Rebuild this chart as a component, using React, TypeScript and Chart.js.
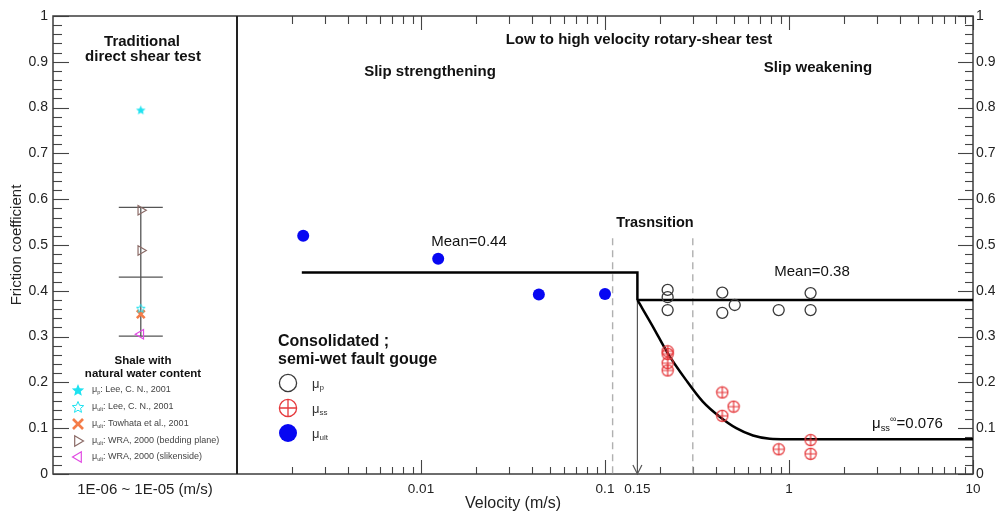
import React, { useEffect, useRef } from "react";
import { Chart, registerables } from "chart.js";

Chart.register(...registerables);

const FONT = '"Liberation Sans", Arial, Helvetica, sans-serif';

// ---- Low to high velocity rotary-shear test (velocity m/s, friction coefficient) ----
const ultVelocity = [0.00229, 0.0124, 0.0437, 0.1];
const ultFriction = [0.52, 0.47, 0.392, 0.393];

const peakVelocity = [0.219, 0.219, 0.219, 0.434, 0.434, 0.507, 0.879, 1.31, 1.31];
const peakFriction = [0.402, 0.386, 0.358, 0.396, 0.352, 0.369, 0.358, 0.395, 0.358];

const ssVelocity = [0.219, 0.219, 0.219, 0.219, 0.434, 0.434, 0.5, 0.879, 1.31, 1.31];
const ssFriction = [0.268, 0.262, 0.242, 0.226, 0.178, 0.127, 0.147, 0.054, 0.074, 0.044];

// Mean friction below / above the critical velocity
const slowMeanVelocity = [0.00225, 0.15, 0.15];
const slowMeanFriction = [0.44, 0.44, 0.38];
const fastMeanVelocity = [0.15, 10];
const fastMeanFriction = [0.38, 0.38];

// Steady-state friction decay towards mu_ss(inf) = 0.076
const decayVelocity = [0.15, 0.182, 0.219, 0.276, 0.34, 0.42, 0.517, 0.637, 0.786, 0.969, 10];
const decayFriction = [0.38, 0.322, 0.264, 0.205, 0.158, 0.125, 0.1, 0.084, 0.077, 0.076, 0.076];

const criticalVelocity = 0.15;
const criticalFriction = [0.38, 0];
const transitionVelocity = [0.11, 0.3];
const transitionFriction = [0.515, 0];

// ---- Traditional direct shear test (shale, natural water content) ----
const directVelocity = 0.0003;
const leePeak = [0.795];
const leeUlt = [0.362];
const towhataUlt = [0.349];
const wraBedding = [0.576, 0.488];
const wraSlickenside = [0.305];
const directLow = 0.301;
const directMean = 0.43;
const directHigh = 0.582;

// ---- Axes ----
const xMin = 1e-4;
const xMax = 10;
const panelDivider = 1e-3;
const xTickValues = [0.000316, 0.01, 0.1, 0.15, 1, 10];
const xTickLabels = ["1E-06 ~ 1E-05 (m/s)", "0.01", "0.1", "0.15", "1", "10"];

const CYAN = "#1ee2f0";
const ORANGE = "#f47c48";
const BROWN = "#8a6a66";
const MAGENTA = "#e14be3";
const BLUE = "#0707f2";
const RED = "#e5393c";
const DARK = "#3a3a3a";

const pts = (xs: number[], ys: number[]) => xs.map((v, i) => ({ x: v, y: ys[i] }));
const col = (v: number, ys: number[]) => ys.map((y) => ({ x: v, y }));
const yLabel = (v: any) => String(Number(Number(v).toFixed(1)));

function starImage(size: number, fill: string | null, stroke: string | null, lw: number) {
  const c = document.createElement("canvas");
  c.width = size;
  c.height = size;
  const g = c.getContext("2d")!;
  const cx = size / 2;
  const cy = size / 2 + 0.5;
  const R = size / 2 - lw;
  const r = R * 0.45;
  g.beginPath();
  for (let i = 0; i < 10; i++) {
    const a = -Math.PI / 2 + (i * Math.PI) / 5;
    const rr = i % 2 ? r : R;
    g.lineTo(cx + rr * Math.cos(a), cy + rr * Math.sin(a));
  }
  g.closePath();
  if (fill) {
    g.fillStyle = fill;
    g.fill();
  }
  if (stroke) {
    g.strokeStyle = stroke;
    g.lineWidth = lw;
    g.stroke();
  }
  return c;
}

function crossCircleImage(size: number, r: number, color: string, lw: number) {
  const c = document.createElement("canvas");
  c.width = size;
  c.height = size;
  const g = c.getContext("2d")!;
  const cx = size / 2;
  const cy = size / 2;
  g.strokeStyle = color;
  g.lineWidth = lw;
  g.beginPath();
  g.arc(cx, cy, r, 0, Math.PI * 2);
  g.moveTo(cx - r, cy);
  g.lineTo(cx + r, cy);
  g.moveTo(cx, cy - r);
  g.lineTo(cx, cy + r);
  g.stroke();
  return c;
}

function line(ctx: CanvasRenderingContext2D, x1: number, y1: number, x2: number, y2: number) {
  ctx.beginPath();
  ctx.moveTo(x1, y1);
  ctx.lineTo(x2, y2);
  ctx.stroke();
}

function text(
  ctx: CanvasRenderingContext2D,
  s: string,
  x: number,
  y: number,
  size: number,
  bold = false,
  align: CanvasTextAlign = "center",
  color = "#111"
) {
  ctx.font = `${bold ? "bold " : ""}${size}px ${FONT}`;
  ctx.fillStyle = color;
  ctx.textAlign = align;
  ctx.textBaseline = "middle";
  ctx.fillText(s, x, y);
}

function muLabel(
  ctx: CanvasRenderingContext2D,
  x: number,
  y: number,
  size: number,
  sub: string,
  rest: string,
  color: string,
  sup = ""
) {
  ctx.textAlign = "left";
  ctx.textBaseline = "middle";
  ctx.fillStyle = color;
  ctx.font = `${size}px ${FONT}`;
  ctx.fillText("μ", x, y);
  let cx = x + ctx.measureText("μ").width;
  const small = size * 0.62;
  ctx.font = `${small}px ${FONT}`;
  ctx.fillText(sub, cx, y + size * 0.32);
  cx += ctx.measureText(sub).width;
  if (sup) {
    ctx.fillText(sup, cx, y - size * 0.3);
    cx += ctx.measureText(sup).width;
  }
  if (rest) {
    ctx.font = `${size}px ${FONT}`;
    ctx.fillText(rest, cx, y);
  }
}

function triangle(ctx: CanvasRenderingContext2D, x: number, y: number, r: number, dir: number, color: string) {
  ctx.strokeStyle = color;
  ctx.lineWidth = 1.2;
  ctx.beginPath();
  ctx.moveTo(x + dir * r, y);
  ctx.lineTo(x - dir * r * 0.6, y - r * 0.95);
  ctx.lineTo(x - dir * r * 0.6, y + r * 0.95);
  ctx.closePath();
  ctx.stroke();
}

export default function App() {
  const ref = useRef<HTMLCanvasElement>(null);

  useEffect(() => {
    const canvas = ref.current;
    if (!canvas) return;

    const starFilled = starImage(11, CYAN, null, 0.5);
    const starOpen = starImage(11, null, CYAN, 1);
    const crossCircle = crossCircleImage(14, 5.6, RED, 1.2);
    const legendStarFilled = starImage(14, CYAN, null, 0.5);
    const legendStarOpen = starImage(14, null, CYAN, 1);
    const legendCrossCircle = crossCircleImage(22, 8.6, RED, 1.3);

    const decor = {
      id: "decor",
      beforeDatasetsDraw(chart: any) {
        const { ctx, chartArea: a, scales } = chart;
        const xs = scales.x;
        const ys = scales.y;
        ctx.save();
        // inward tick marks on all four sides
        ctx.strokeStyle = "#444";
        ctx.lineWidth = 1.1;
        for (let i = 0; i <= 50; i++) {
          const py = Math.round(ys.getPixelForValue(i / 50)) + 0.5;
          const major = i % 5 === 0;
          line(ctx, a.left, py, a.left + (major ? 16 : 9), py);
          line(ctx, a.right, py, a.right - (major ? 15 : 8), py);
        }
        for (let e = -3; e <= 1; e++) {
          for (let m = 1; m <= 9; m++) {
            const v = m * Math.pow(10, e);
            if (v <= panelDivider * 1.0001 || v > xMax * 1.0001) continue;
            const px = Math.round(xs.getPixelForValue(v)) + 0.5;
            const major = m === 1;
            line(ctx, px, a.bottom, px, a.bottom - (major ? 14 : 7));
            line(ctx, px, a.top, px, a.top + (major ? 14 : 8));
          }
        }
        // frame and panel divider
        ctx.strokeStyle = "#3c3c3c";
        ctx.lineWidth = 1.5;
        ctx.strokeRect(a.left, a.top, a.right - a.left, a.bottom - a.top);
        ctx.strokeStyle = "#222";
        ctx.lineWidth = 2;
        const dx = Math.round(xs.getPixelForValue(panelDivider));
        line(ctx, dx, a.top, dx, a.bottom);

        // direct shear range bar
        const cx = xs.getPixelForValue(directVelocity);
        const cap = 22;
        ctx.strokeStyle = "#555";
        ctx.lineWidth = 1.3;
        line(ctx, cx, ys.getPixelForValue(directLow), cx, ys.getPixelForValue(directHigh));
        [directLow, directMean, directHigh].forEach((v) => {
          const py = ys.getPixelForValue(v);
          line(ctx, cx - cap, py, cx + cap, py);
        });
        ctx.restore();
      },
      afterDatasetsDraw(chart: any) {
        const { ctx, scales } = chart;
        const xs = scales.x;
        const ys = scales.y;
        ctx.save();
        // arrow head at the critical velocity
        const ax = xs.getPixelForValue(criticalVelocity);
        const ay = ys.getPixelForValue(0);
        ctx.strokeStyle = "#555";
        ctx.lineWidth = 1.2;
        ctx.beginPath();
        ctx.moveTo(ax - 4.5, ay - 9);
        ctx.lineTo(ax, ay);
        ctx.lineTo(ax + 4.5, ay - 9);
        ctx.stroke();
        ctx.restore();
      },
      afterDraw(chart: any) {
        const { ctx } = chart;
        ctx.save();
        // panel titles
        text(ctx, "Traditional", 142, 42, 15, true);
        text(ctx, "direct shear test", 143, 57, 15, true);
        text(ctx, "Low to high velocity rotary-shear test", 639, 40, 15, true);
        text(ctx, "Slip strengthening", 430, 72, 15, true);
        text(ctx, "Slip weakening", 818, 68, 15, true);
        text(ctx, "Trasnsition", 655, 223, 14.5, true);
        text(ctx, "Mean=0.44", 469, 242, 15, false, "center", "#111");
        text(ctx, "Mean=0.38", 812, 272, 15, false, "center", "#111");
        muLabel(ctx, 872, 424, 15, "ss", "=0.076", "#111", "∞");

        // gouge legend
        text(ctx, "Consolidated ;", 278, 342, 16, true, "left");
        text(ctx, "semi-wet fault gouge", 278, 360, 16, true, "left");
        ctx.strokeStyle = DARK;
        ctx.lineWidth = 1.3;
        ctx.beginPath();
        ctx.arc(288, 383, 8.6, 0, Math.PI * 2);
        ctx.stroke();
        ctx.drawImage(legendCrossCircle, 288 - 11, 408 - 11);
        ctx.fillStyle = BLUE;
        ctx.beginPath();
        ctx.arc(288, 433, 9, 0, Math.PI * 2);
        ctx.fill();
        muLabel(ctx, 312, 384, 13, "p", "", "#333");
        muLabel(ctx, 312, 409, 13, "ss", "", "#333");
        muLabel(ctx, 312, 434, 13, "ult", "", "#333");

        // direct shear legend
        text(ctx, "Shale with", 143, 361, 11.5, true);
        text(ctx, "natural water content", 143, 374, 11.5, true);
        const lx = 78;
        const rows = [390, 407, 424, 441, 457];
        ctx.drawImage(legendStarFilled, lx - 7, rows[0] - 7);
        ctx.drawImage(legendStarOpen, lx - 7, rows[1] - 7);
        ctx.strokeStyle = ORANGE;
        ctx.lineWidth = 2.6;
        line(ctx, lx - 5, rows[2] - 5, lx + 5, rows[2] + 5);
        line(ctx, lx - 5, rows[2] + 5, lx + 5, rows[2] - 5);
        triangle(ctx, lx, rows[3], 5.5, 1, BROWN);
        triangle(ctx, lx, rows[4], 5.5, -1, MAGENTA);
        const tx = 92;
        muLabel(ctx, tx, rows[0], 9, "p", ": Lee, C. N., 2001", "#444");
        muLabel(ctx, tx, rows[1], 9, "ult", ": Lee, C. N., 2001", "#444");
        muLabel(ctx, tx, rows[2], 9, "ult", ": Towhata et al., 2001", "#444");
        muLabel(ctx, tx, rows[3], 9, "ult", ": WRA, 2000 (bedding plane)", "#444");
        muLabel(ctx, tx, rows[4], 9, "ult", ": WRA, 2000 (slikenside)", "#444");
        ctx.restore();
      },
    };

    const lineSet = (data: any[], color: string, width: number, extra: any = {}) => ({
      data,
      showLine: true,
      borderColor: color,
      borderWidth: width,
      pointRadius: 0,
      fill: false,
      ...extra,
    });

    const chart = new Chart(canvas, {
      type: "scatter",
      data: {
        datasets: [
          { data: pts(ultVelocity, ultFriction), pointStyle: "circle", pointRadius: 6, backgroundColor: BLUE, borderColor: BLUE, borderWidth: 0 },
          { data: pts(peakVelocity, peakFriction), pointStyle: "circle", pointRadius: 5.5, backgroundColor: "rgba(0,0,0,0)", borderColor: DARK, borderWidth: 1.3 },
          { data: pts(ssVelocity, ssFriction), pointStyle: crossCircle, pointRadius: 6 },
          { data: col(directVelocity, leePeak), pointStyle: starFilled, pointRadius: 5 },
          { data: col(directVelocity, leeUlt), pointStyle: starOpen, pointRadius: 5 },
          { data: col(directVelocity, towhataUlt), pointStyle: "crossRot", pointRadius: 5.5, borderColor: ORANGE, borderWidth: 2.6 },
          { data: col(directVelocity, wraBedding), pointStyle: "triangle", pointRotation: 90, pointRadius: 5.5, backgroundColor: "rgba(0,0,0,0)", borderColor: BROWN, borderWidth: 1.2 },
          { data: col(directVelocity, wraSlickenside), pointStyle: "triangle", pointRotation: -90, pointRadius: 5.5, backgroundColor: "rgba(0,0,0,0)", borderColor: MAGENTA, borderWidth: 1.2 },
          lineSet(pts(slowMeanVelocity, slowMeanFriction), "#000", 2.5),
          lineSet(pts(fastMeanVelocity, fastMeanFriction), "#000", 2.5),
          lineSet(pts(decayVelocity, decayFriction), "#000", 2.5, { cubicInterpolationMode: "monotone" }),
          lineSet(col(criticalVelocity, criticalFriction), "#555", 1.2),
          lineSet(col(transitionVelocity[0], transitionFriction), "#b0b0b0", 1.4, { borderDash: [7, 5] }),
          lineSet(col(transitionVelocity[1], transitionFriction), "#b0b0b0", 1.4, { borderDash: [7, 5] }),
        ],
      },
      options: {
        responsive: false,
        animation: false,
        events: [],
        layout: { padding: { top: 16, left: 0, right: 0, bottom: 0 } },
        plugins: { legend: { display: false }, tooltip: { enabled: false } },
        scales: {
          x: {
            type: "logarithmic",
            position: "bottom",
            min: xMin,
            max: xMax,
            afterFit: (s: any) => {
              s.height = 40;
            },
            afterBuildTicks: (s: any) => {
              s.ticks = xTickValues.map((v) => ({ value: v }));
            },
            grid: { display: false, drawTicks: false },
            border: { display: false },
            ticks: {
              autoSkip: false,
              maxRotation: 0,
              padding: 7,
              color: "#222",
              font: (c: any) => ({ family: FONT, size: c.index === 0 ? 15 : 13.5 }),
              callback: (_v: any, i: number) => xTickLabels[i],
            },
            title: {
              display: true,
              text: "Velocity (m/s)",
              color: "#222",
              font: { family: FONT, size: 16 },
              padding: { top: 0, bottom: 1 },
            },
          },
          y: {
            type: "linear",
            position: "left",
            min: 0,
            max: 1,
            afterFit: (s: any) => {
              s.width = 53;
            },
            grid: { display: false, drawTicks: false },
            border: { display: false },
            ticks: { stepSize: 0.1, padding: 5, color: "#222", font: { family: FONT, size: 14 }, callback: yLabel },
            title: {
              display: true,
              text: "Friction coefficient",
              color: "#222",
              font: { family: FONT, size: 15 },
              padding: { top: 8, bottom: 0 },
            },
          },
          y2: {
            type: "linear",
            position: "right",
            min: 0,
            max: 1,
            afterFit: (s: any) => {
              s.width = 22;
            },
            grid: { display: false, drawTicks: false },
            border: { display: false },
            ticks: { stepSize: 0.1, padding: 3, color: "#222", font: { family: FONT, size: 14 }, callback: yLabel },
          },
        },
      },
      plugins: [decor],
    } as any);

    return () => chart.destroy();
  }, []);

  return (
    <div style={{ position: "absolute", left: 0, top: 0, width: 995, height: 514, background: "#fff" }}>
      <canvas ref={ref} width={995} height={514} style={{ display: "block" }} />
    </div>
  );
}
